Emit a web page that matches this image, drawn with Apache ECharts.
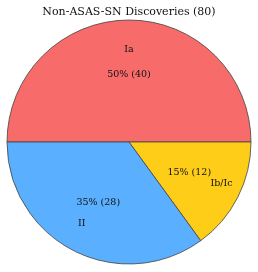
<!DOCTYPE html>
<html><head><meta charset="utf-8">
<script src="https://cdn.jsdelivr.net/npm/echarts@6/dist/echarts.min.js"></script>
<style>html,body{margin:0;padding:0;background:#fff}#c{width:258px;height:272px}</style>
</head><body><div id="c"></div>
<script>
const categories = ['Ia', 'Ib/Ic', 'II'];
const counts = [40, 12, 28];
const colors = ['#f76b6b', '#fdcd17', '#5aaffe'];
const titleText = 'Non-ASAS-SN Discoveries (80)';
const total = counts.reduce((a, b) => a + b, 0);
const font = '"DejaVu Serif", "Liberation Serif", serif';
// emulate matplotlib's text anchoring of the labels
const labelPads = [[4, 0, 0, 0], [0, 0, 0, 21], [0, 11, 0, 0]];
const pctPads = [[4, 0, 0, 0], [0, 0, 0, 0], [0, 0, 0, 0]];

const chart = echarts.init(document.getElementById('c'), null, {renderer: 'canvas'});
const R = 122;
const center = [129, 142];
const base = {
  type: 'pie', center: center, startAngle: 180, clockwise: true,
  animation: false, avoidLabelOverlap: false, labelLine: {show: false}
};
chart.setOption({
  title: {text: titleText, left: 'center', top: 2,
    textStyle: {fontFamily: font, fontWeight: 'normal', fontSize: 11, color: '#111'}},
  series: [
    Object.assign({}, base, {
      radius: [0, R],
      data: categories.map((c, i) => ({name: c, value: counts[i],
        itemStyle: {color: colors[i], borderColor: '#444', borderWidth: 0.8}})),
      label: {show: false}, silent: true
    }),
    Object.assign({}, base, {
      radius: [R * 0.46, R], silent: true,
      data: categories.map((c, i) => ({name: c, value: counts[i],
        itemStyle: {color: 'rgba(0,0,0,0)'},
        label: {padding: labelPads[i]}})),
      label: {show: true, position: 'inside', formatter: '{b}',
        fontFamily: font, fontSize: 9.5, color: '#111'}
    }),
    Object.assign({}, base, {
      radius: [R * 0.06, R], silent: true,
      data: categories.map((c, i) => ({name: c, value: counts[i],
        itemStyle: {color: 'rgba(0,0,0,0)'},
        label: {padding: pctPads[i]}})),
      label: {show: true, position: 'inside',
        formatter: p => Math.round(p.value / total * 100) + '% (' + p.value + ')',
        fontFamily: font, fontSize: 9.5, color: '#111'}
    })
  ]
});
</script></body></html>
